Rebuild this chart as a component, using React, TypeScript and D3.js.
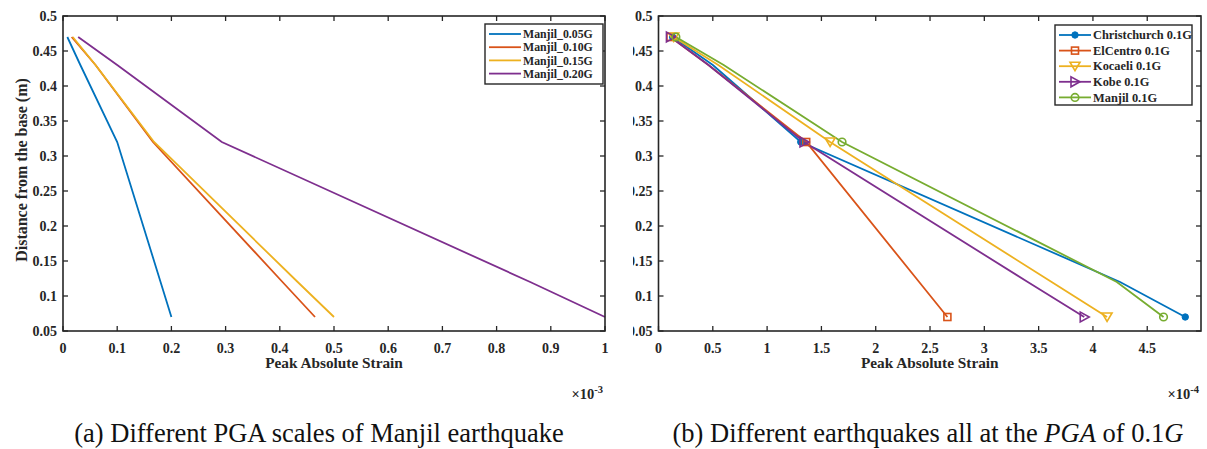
import React from "react";
import * as d3 from "d3";

const heights = [0.47, 0.43, 0.32, 0.12, 0.07];

const leftNames = ["Manjil_0.05G", "Manjil_0.10G", "Manjil_0.15G", "Manjil_0.20G"];
const leftValues = [
  [0.008, 0.032, 0.1, 0.18, 0.2],
  [0.016, 0.06, 0.166, 0.405, 0.465],
  [0.018, 0.06, 0.168, 0.433, 0.5],
  [0.028, 0.1, 0.293, 0.862, 1.0],
];

const rightNames = ["Christchurch 0.1G", "ElCentro 0.1G", "Kocaeli 0.1G", "Kobe 0.1G", "Manjil 0.1G"];
const rightValues = [
  [0.13, 0.5, 1.31, 4.25, 4.85],
  [0.11, 0.46, 1.36, 2.4, 2.66],
  [0.14, 0.55, 1.58, 3.62, 4.13],
  [0.11, 0.46, 1.34, 3.4, 3.92],
  [0.16, 0.6, 1.69, 4.22, 4.65],
];
const rightMarkers = ["circleFilled", "square", "triDown", "triRight", "circle"];

const colors = ["#0072BD", "#D95319", "#EDB120", "#7E2F8E", "#77AC30"];
const yTicks = [0.05, 0.1, 0.15, 0.2, 0.25, 0.3, 0.35, 0.4, 0.45, 0.5];
const leftXTicks = [0, 0.1, 0.2, 0.3, 0.4, 0.5, 0.6, 0.7, 0.8, 0.9, 1];
const rightXTicks = [0, 0.5, 1, 1.5, 2, 2.5, 3, 3.5, 4, 4.5];

const FONT = "Liberation Serif";
const AX = "#262626";
const tStyle = { fontFamily: FONT };

function Marker({ type, x, y, color }: { type: string; x: number; y: number; color: string }) {
  const s = 4;
  if (type === "circleFilled") return <circle cx={x} cy={y} r={3.2} fill={color} stroke={color} />;
  if (type === "circle") return <circle cx={x} cy={y} r={3.8} fill="none" stroke={color} strokeWidth={1.6} />;
  if (type === "square")
    return <rect x={x - s + 0.5} y={y - s + 0.5} width={2 * s - 1} height={2 * s - 1} fill="none" stroke={color} strokeWidth={1.6} />;
  if (type === "triDown")
    return <path d={`M${x - 5},${y - 4}L${x + 5},${y - 4}L${x},${y + 4.5}Z`} fill="none" stroke={color} strokeWidth={1.6} />;
  if (type === "triRight")
    return <path d={`M${x - 4},${y - 5}L${x - 4},${y + 5}L${x + 5},${y}Z`} fill="none" stroke={color} strokeWidth={1.6} />;
  return null;
}

function Panel({
  x0, x1, y0, y1, xDomain, xTicks, xFmt, yFmt, names, values, markers, legend, exp, clipId, clipX,
}: any) {
  const xs = d3.scaleLinear().domain(xDomain).range([x0, x1]);
  const ys = d3.scaleLinear().domain([0.05, 0.5]).range([y1, y0]);
  const line = d3.line<[number, number]>().x((d) => xs(d[0])).y((d) => ys(d[1]));
  const tl = 5;
  return (
    <g>
      {clipId && (
        <defs>
          <clipPath id={clipId}>
            <rect x={clipX} y={0} width={2000} height={449} />
          </clipPath>
        </defs>
      )}
      {values.map((vals: number[], i: number) => (
        <path
          key={i}
          d={line(vals.map((v, j) => [v, heights[j]]) as [number, number][]) || ""}
          fill="none"
          stroke={colors[i]}
          strokeWidth={1.8}
        />
      ))}
      {markers &&
        values.map((vals: number[], i: number) =>
          [0, 2, 4].map((j) => (
            <Marker key={`${i}-${j}`} type={markers[i]} x={xs(vals[j])} y={ys(heights[j])} color={colors[i]} />
          ))
        )}
      <rect x={x0} y={y0} width={x1 - x0} height={y1 - y0} fill="none" stroke={AX} strokeWidth={1.6} />
      {xTicks.map((t: number) => (
        <g key={t}>
          <line x1={xs(t)} x2={xs(t)} y1={y1} y2={y1 - tl} stroke={AX} strokeWidth={1.3} />
          <line x1={xs(t)} x2={xs(t)} y1={y0} y2={y0 + tl} stroke={AX} strokeWidth={1.3} />
          <text x={xs(t)} y={y1 + 22} textAnchor="middle" style={tStyle} fontWeight="bold" fontSize={14} fill={AX}>
            {xFmt(t)}
          </text>
        </g>
      ))}
      {yTicks.map((t: number) => (
        <g key={t}>
          <line x1={x0} x2={x0 + tl} y1={ys(t)} y2={ys(t)} stroke={AX} strokeWidth={1.3} />
          <line x1={x1} x2={x1 - tl} y1={ys(t)} y2={ys(t)} stroke={AX} strokeWidth={1.3} />
        </g>
      ))}
      <g clipPath={clipId ? `url(#${clipId})` : undefined}>
        {yTicks.map((t: number) => (
          <text key={t} x={x0 - 6} y={ys(t) + 4.5} textAnchor="end" style={tStyle} fontWeight="bold" fontSize={14} fill={AX}>
            {yFmt(t)}
          </text>
        ))}
      </g>
      <text x={(x0 + x1) / 2} y={y1 + 37} textAnchor="middle" style={tStyle} fontWeight="bold" fontSize={15.3} fill={AX}>
        Peak Absolute Strain
      </text>
      <text x={x1 - 2} y={y1 + 68} textAnchor="end" style={tStyle} fontWeight="bold" fontSize={14.5} fill={AX}>
        ×10
        <tspan dy={-6} fontSize={10.5}>{exp}</tspan>
      </text>
      <g>
        <rect x={legend.x} y={legend.y} width={legend.w} height={legend.h} fill="white" stroke={AX} strokeWidth={1.4} />
        {names.map((n: string, i: number) => {
          const yy = legend.y + legend.first + i * legend.step;
          return (
            <g key={n}>
              <line x1={legend.x + 4} x2={legend.x + 36} y1={yy} y2={yy} stroke={colors[i]} strokeWidth={1.8} />
              {markers && <Marker type={markers[i]} x={legend.x + 20} y={yy} color={colors[i]} />}
              <text x={legend.x + 38} y={yy + 4.2} style={tStyle} fontWeight="bold" fontSize={legend.fs} fill={AX}>
                {n}
              </text>
            </g>
          );
        })}
      </g>
    </g>
  );
}

export default function App() {
  return (
    <svg width={1207} height={449} style={{ position: "absolute", left: 0, top: 0, background: "white" }}>
      <rect x={0} y={0} width={1207} height={449} fill="white" />
      <Panel
        x0={63}
        x1={605}
        y0={16}
        y1={331}
        xDomain={[0, 1]}
        xTicks={leftXTicks}
        xFmt={(t: number) => String(t)}
        yFmt={(t: number) => String(+t.toFixed(2))}
        names={leftNames}
        values={leftValues}
        markers={null}
        legend={{ x: 485, y: 24, w: 118, h: 60, first: 10, step: 13.2, fs: 11.8 }}
        exp="-3"
      />
      <Panel
        x0={658.5}
        x1={1201}
        y0={16}
        y1={331}
        xDomain={[0, 4.995]}
        xTicks={rightXTicks}
        xFmt={(t: number) => String(t)}
        yFmt={(t: number) => String(+t.toFixed(2))}
        names={rightNames}
        values={rightValues}
        markers={rightMarkers}
        legend={{ x: 1055, y: 25, w: 137, h: 80, first: 10, step: 15.6, fs: 12.4 }}
        exp="-4"
        clipId="rclip"
        clipX={633}
      />
      <text x={319} y={442} textAnchor="middle" style={tStyle} fontSize={26.5} fill="#111">
        (a) Different PGA scales of Manjil earthquake
      </text>
      <text x={928} y={442} textAnchor="middle" style={tStyle} fontSize={26.5} fill="#111">
        (b) Different earthquakes all at the <tspan fontStyle="italic">PGA</tspan> of 0.1<tspan fontStyle="italic">G</tspan>
      </text>
      <text
        transform="translate(27,170) rotate(-90)"
        textAnchor="middle"
        style={tStyle}
        fontWeight="bold"
        fontSize={16}
        fill={AX}
      >
        Distance from the base (m)
      </text>
    </svg>
  );
}
